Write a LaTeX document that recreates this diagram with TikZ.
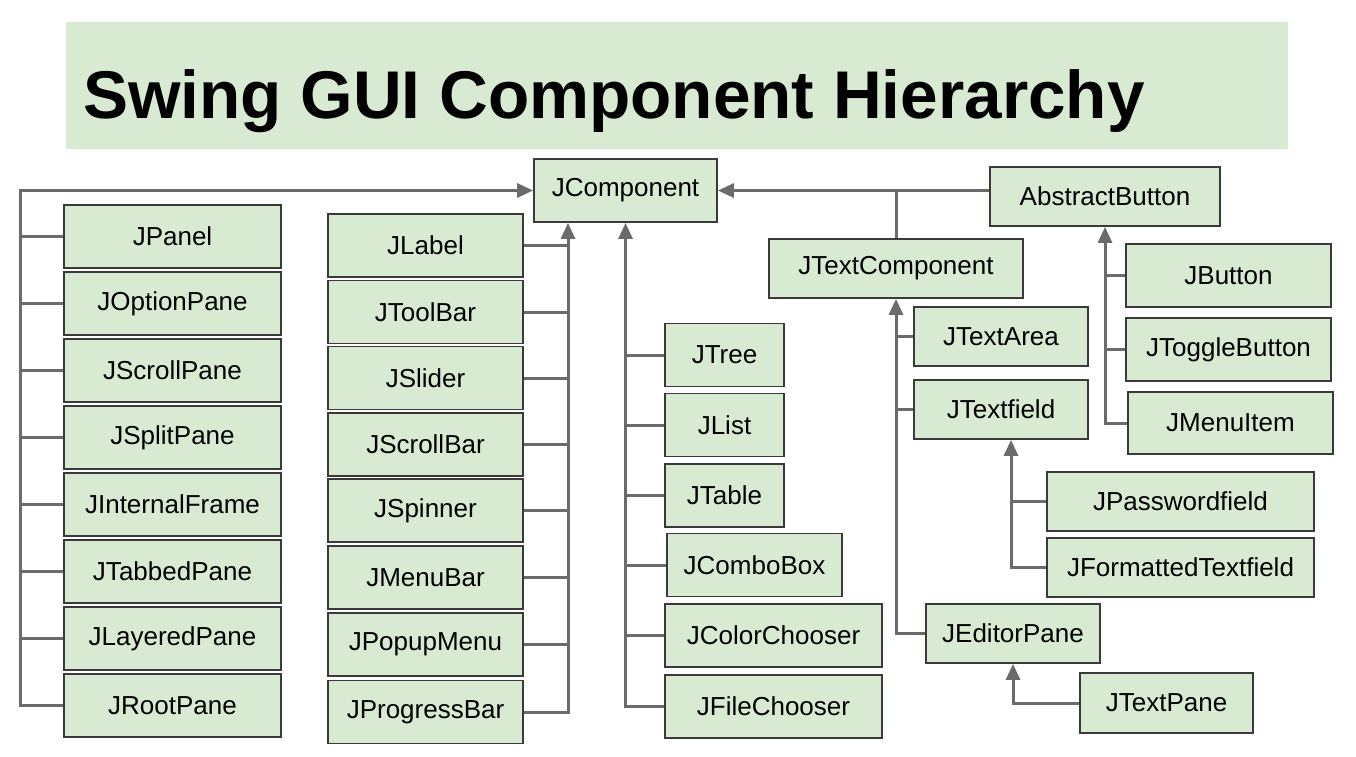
\documentclass[tikz,border=0pt]{standalone}
\usepackage{fontspec}
\setmainfont{Liberation Sans}
\usetikzlibrary{arrows.meta}
\definecolor{boxfill}{HTML}{D9EAD3}
\definecolor{boxline}{HTML}{3A3A3A}
\definecolor{linkgray}{HTML}{6B6B6B}
\tikzset{
  cls/.style={draw=boxline,fill=boxfill,line width=1.8pt,inner sep=0pt,minimum height=63pt,font=\fontsize{26}{30}\selectfont},
  link/.style={draw=linkgray,line width=3pt},
  isa/.style={link,-{Triangle[width=14pt,length=16pt]}}
}
\begin{document}
\begin{tikzpicture}[x=1pt,y=-1pt]
\pgfmathsetmacro{\wa}{217}   %left column
\pgfmathsetmacro{\wb}{195}   %second column
\pgfmathsetmacro{\hs}{59}    %smaller boxes
\useasboundingbox (0,0) rectangle (1356,756);
%title band
\fill[boxfill] (66,22) rectangle (1288,149);
\node[anchor=base west,inner sep=0pt,font=\fontsize{67.5}{80}\selectfont\bfseries] (title) at (83,118) {Swing GUI Component Hierarchy};
%root
\node[cls,minimum width=183pt] (JComponent) at (625.5,190.5) {JComponent};
%left column
\node[cls,minimum width=\wa pt] (JPanel) at (172.5,236.5) {JPanel};
\node[cls,minimum width=\wa pt] (JOptionPane) at (172.5,303.5) {JOptionPane};
\node[cls,minimum width=\wa pt] (JScrollPane) at (172.5,370.5) {JScrollPane};
\node[cls,minimum width=\wa pt] (JSplitPane) at (172.5,437.5) {JSplitPane};
\node[cls,minimum width=\wa pt] (JInternalFrame) at (172.5,504.5) {JInternalFrame};
\node[cls,minimum width=\wa pt] (JTabbedPane) at (172.5,571.5) {JTabbedPane};
\node[cls,minimum width=\wa pt] (JLayeredPane) at (172.5,638.5) {JLayeredPane};
\node[cls,minimum width=\wa pt] (JRootPane) at (172.5,705.5) {JRootPane};
%second column
\node[cls,minimum width=\wb pt] (JLabel) at (425.5,245.5) {JLabel};
\node[cls,minimum width=\wb pt] (JToolBar) at (425.5,312) {JToolBar};
\node[cls,minimum width=\wb pt] (JSlider) at (425.5,378) {JSlider};
\node[cls,minimum width=\wb pt] (JScrollBar) at (425.5,444.5) {JScrollBar};
\node[cls,minimum width=\wb pt] (JSpinner) at (425.5,510.5) {JSpinner};
\node[cls,minimum width=\wb pt] (JMenuBar) at (425.5,577.5) {JMenuBar};
\node[cls,minimum width=\wb pt] (JPopupMenu) at (425.5,644.5) {JPopupMenu};
\node[cls,minimum width=\wb pt] (JProgressBar) at (425.5,712) {JProgressBar};
%third column
\node[cls,minimum width=119pt] (JTree) at (724.5,355) {JTree};
\node[cls,minimum width=119pt] (JList) at (724.5,425) {JList};
\node[cls,minimum width=119pt] (JTable) at (724.5,495.5) {JTable};
\node[cls,minimum width=175pt] (JComboBox) at (754.5,565) {JComboBox};
\node[cls,minimum width=217pt] (JColorChooser) at (773.5,635.5) {JColorChooser};
\node[cls,minimum width=217pt] (JFileChooser) at (773.5,706.5) {JFileChooser};
%text components
\node[cls,minimum width=254pt,minimum height=\hs pt] (JTextComponent) at (896,268.5) {JTextComponent};
\node[cls,minimum width=174pt,minimum height=\hs pt] (JTextArea) at (1001,336.5) {JTextArea};
\node[cls,minimum width=174pt,minimum height=\hs pt] (JTextfield) at (1001,409.5) {JTextfield};
\node[cls,minimum width=267pt,minimum height=\hs pt] (JPasswordfield) at (1180.5,501.5) {JPasswordfield};
\node[cls,minimum width=267pt,minimum height=\hs pt] (JFormattedTextfield) at (1180.5,567.5) {JFormattedTextfield};
\node[cls,minimum width=174pt,minimum height=\hs pt] (JEditorPane) at (1013,633.5) {JEditorPane};
\node[cls,minimum width=173pt,minimum height=60pt] (JTextPane) at (1166.5,703) {JTextPane};
%buttons
\node[cls,minimum width=230pt,minimum height=\hs pt] (AbstractButton) at (1105,196.5) {AbstractButton};
\node[cls,minimum width=205pt] (JButton) at (1228.5,275.5) {JButton};
\node[cls,minimum width=205pt] (JToggleButton) at (1228.5,349.5) {JToggleButton};
\node[cls,minimum width=205pt,minimum height=62pt] (JMenuItem) at (1230.5,423) {JMenuItem};
%left trunk
\coordinate (lt) at (20,190.5);
\draw[isa] (JRootPane.west) -| (lt) -- (JComponent.west);
\draw[link] (JPanel.west) -- (JPanel.west -| lt);
\draw[link] (JOptionPane.west) -- (JOptionPane.west -| lt);
\draw[link] (JScrollPane.west) -- (JScrollPane.west -| lt);
\draw[link] (JSplitPane.west) -- (JSplitPane.west -| lt);
\draw[link] (JInternalFrame.west) -- (JInternalFrame.west -| lt);
\draw[link] (JTabbedPane.west) -- (JTabbedPane.west -| lt);
\draw[link] (JLayeredPane.west) -- (JLayeredPane.west -| lt);
%second trunk
\coordinate (mt) at (568,222);
\draw[isa] (JProgressBar.east) -| (JComponent.south -| mt);
\draw[link] (JLabel.east) -- (JLabel.east -| mt);
\draw[link] (JToolBar.east) -- (JToolBar.east -| mt);
\draw[link] (JSlider.east) -- (JSlider.east -| mt);
\draw[link] (JScrollBar.east) -- (JScrollBar.east -| mt);
\draw[link] (JSpinner.east) -- (JSpinner.east -| mt);
\draw[link] (JMenuBar.east) -- (JMenuBar.east -| mt);
\draw[link] (JPopupMenu.east) -- (JPopupMenu.east -| mt);
%third trunk
\draw[isa] (JFileChooser.west) -| (JComponent.south);
\draw[link] (JTree.west) -- (JTree.west -| JComponent.south);
\draw[link] (JList.west) -- (JList.west -| JComponent.south);
\draw[link] (JTable.west) -- (JTable.west -| JComponent.south);
\draw[link] (JComboBox.west) -- (JComboBox.west -| JComponent.south);
\draw[link] (JColorChooser.west) -- (JColorChooser.west -| JComponent.south);
%right side
\draw[isa] (JComponent.east -| AbstractButton.west) -- (JComponent.east);
\draw[link] (JTextComponent.north) -- (JTextComponent.north |- JComponent.east);
\draw[isa] (JEditorPane.west) -| (JTextComponent.south);
\draw[link] (JTextArea.west) -- (JTextArea.west -| JTextComponent.south);
\draw[link] (JTextfield.west) -- (JTextfield.west -| JTextComponent.south);
\coordinate (tf) at ([xshift=10pt]JTextfield.south);
\draw[isa] (JFormattedTextfield.west) -| (tf);
\draw[link] (JPasswordfield.west) -- (JPasswordfield.west -| tf);
\draw[isa] (JTextPane.west) -| (JEditorPane.south);
\draw[isa] (JMenuItem.west) -| (AbstractButton.south);
\draw[link] (JButton.west) -- (JButton.west -| AbstractButton.south);
\draw[link] (JToggleButton.west) -- (JToggleButton.west -| AbstractButton.south);
\end{tikzpicture}
\end{document}
